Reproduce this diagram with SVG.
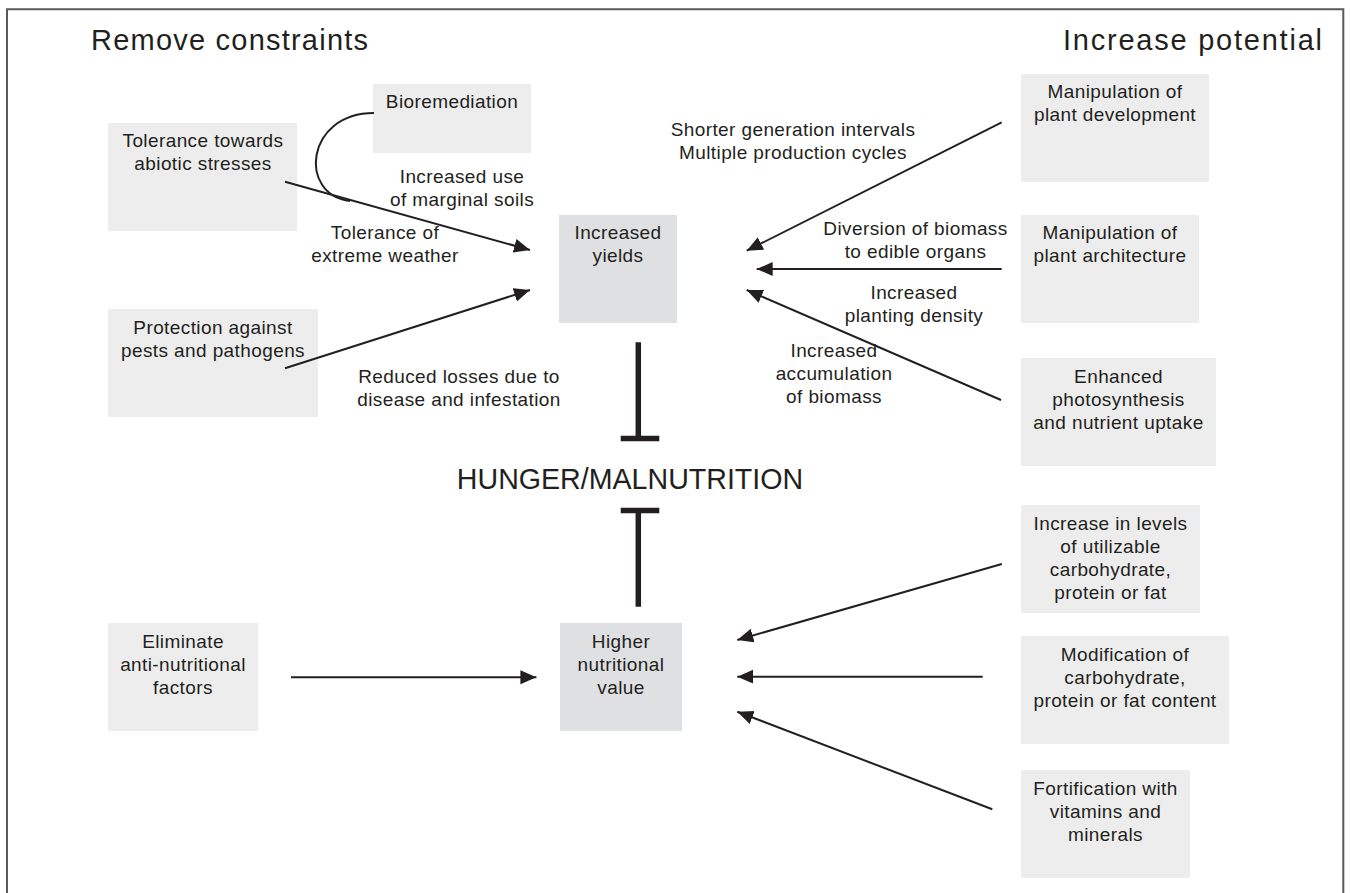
<svg xmlns="http://www.w3.org/2000/svg" width="1350" height="893" viewBox="0 0 1350 893">
<style>
.bg{fill:#ffffff}
.box{fill:#ededed}
.dbox{fill:#dfe0e2}
text{font-family:"Liberation Sans",Arial,Helvetica,sans-serif;fill:#231f20}
.t{font-size:19px;letter-spacing:0.4px;text-anchor:middle}
.title{font-size:29px}
.hm{font-size:28.6px;text-anchor:middle}
.ln{stroke:#231f20;stroke-width:2;fill:none}
.inh{stroke:#231f20;stroke-width:5.5;fill:none}
.frame{stroke:#5a5a5a;stroke-width:2;fill:none}
</style>
<defs>
<marker id="ah" markerUnits="userSpaceOnUse" markerWidth="17" markerHeight="15" refX="16" refY="7" orient="auto">
<path d="M0,0 L16,7 L0,14 z" fill="#231f20"/>
</marker>
</defs>
<rect class="bg" x="0" y="0" width="1350" height="893"/>
<path class="frame" d="M7,893 V9.3 H1343.3 V893"/>

<text class="title" x="91" y="50" textLength="277" lengthAdjust="spacing">Remove constraints</text>
<text class="title" x="1063" y="50" textLength="259" lengthAdjust="spacing">Increase potential</text>

<g id="bioremediation">
<rect class="box" x="373" y="84" width="158" height="69"/>
<text class="t" x="452" y="108">Bioremediation</text>
</g>
<g id="tolerance">
<rect class="box" x="108" y="123" width="189" height="108"/>
<text class="t" x="203" y="147">Tolerance towards</text>
<text class="t" x="203" y="170">abiotic stresses</text>
</g>
<g id="protection">
<rect class="box" x="108" y="309" width="210" height="108"/>
<text class="t" x="213" y="334">Protection against</text>
<text class="t" x="213" y="357">pests and pathogens</text>
</g>
<g id="yields">
<rect class="dbox" x="559" y="215" width="118" height="108"/>
<text class="t" x="618" y="239">Increased</text>
<text class="t" x="618" y="262">yields</text>
</g>
<g id="manip-dev">
<rect class="box" x="1021" y="74" width="188" height="108"/>
<text class="t" x="1115" y="97.5">Manipulation of</text>
<text class="t" x="1115" y="120.5">plant development</text>
</g>
<g id="manip-arch">
<rect class="box" x="1021" y="215" width="178" height="108"/>
<text class="t" x="1110" y="239">Manipulation of</text>
<text class="t" x="1110" y="262">plant architecture</text>
</g>
<g id="enhanced">
<rect class="box" x="1021" y="358" width="195" height="108"/>
<text class="t" x="1118.5" y="382.5">Enhanced</text>
<text class="t" x="1118.5" y="405.5">photosynthesis</text>
<text class="t" x="1118.5" y="428.5">and nutrient uptake</text>
</g>
<g id="hunger">
<text class="hm" x="630" y="489">HUNGER/MALNUTRITION</text>
</g>
<g id="increase-levels">
<rect class="box" x="1021" y="505" width="179" height="108"/>
<text class="t" x="1110.5" y="529.5">Increase in levels</text>
<text class="t" x="1110.5" y="552.5">of utilizable</text>
<text class="t" x="1110.5" y="575.5">carbohydrate,</text>
<text class="t" x="1110.5" y="598.5">protein or fat</text>
</g>
<g id="eliminate">
<rect class="box" x="108" y="623" width="150" height="108"/>
<text class="t" x="183" y="647.5">Eliminate</text>
<text class="t" x="183" y="670.5">anti-nutritional</text>
<text class="t" x="183" y="693.5">factors</text>
</g>
<g id="higher">
<rect class="dbox" x="560" y="623" width="122" height="108"/>
<text class="t" x="621" y="647.5">Higher</text>
<text class="t" x="621" y="670.5">nutritional</text>
<text class="t" x="621" y="693.5">value</text>
</g>
<g id="modification">
<rect class="box" x="1021" y="636" width="208" height="108"/>
<text class="t" x="1125" y="660.5">Modification of</text>
<text class="t" x="1125" y="683.5">carbohydrate,</text>
<text class="t" x="1125" y="706.5">protein or fat content</text>
</g>
<g id="fortification">
<rect class="box" x="1021" y="770" width="169" height="108"/>
<text class="t" x="1105.5" y="795">Fortification with</text>
<text class="t" x="1105.5" y="818">vitamins and</text>
<text class="t" x="1105.5" y="841">minerals</text>
</g>

<g id="connectors">
<path class="ln" d="M374,113 C305,113 298,195 350,201"/>
<line class="ln" x1="285" y1="181.7" x2="530" y2="250" marker-end="url(#ah)"/>
<line class="ln" x1="285" y1="368.3" x2="530" y2="290" marker-end="url(#ah)"/>
<line class="ln" x1="1001.7" y1="122.3" x2="746.7" y2="250.7" marker-end="url(#ah)"/>
<line class="ln" x1="1001.7" y1="269" x2="756.7" y2="269" marker-end="url(#ah)"/>
<line class="ln" x1="1001" y1="400" x2="746.7" y2="290" marker-end="url(#ah)"/>
<line class="ln" x1="291" y1="677.3" x2="536.4" y2="677.3" marker-end="url(#ah)"/>
<line class="ln" x1="1001.8" y1="564" x2="737.3" y2="640" marker-end="url(#ah)"/>
<line class="ln" x1="982.7" y1="676.7" x2="737.3" y2="676.7" marker-end="url(#ah)"/>
<line class="ln" x1="992.3" y1="809.3" x2="737.3" y2="711.7" marker-end="url(#ah)"/>
<path class="inh" d="M638.3,342.3 V438.5 M620.7,438.5 H659.3"/>
<path class="inh" d="M638.3,606.7 V510.5 M620.7,510.5 H659.3"/>
</g>

<g id="labels">
<text class="t" x="462" y="183.3">Increased use</text>
<text class="t" x="462" y="206">of marginal soils</text>
<text class="t" x="385" y="239">Tolerance of</text>
<text class="t" x="385" y="261.7">extreme weather</text>
<text class="t" x="459" y="383.3">Reduced losses due to</text>
<text class="t" x="459" y="406">disease and infestation</text>
<text class="t" x="793" y="136">Shorter generation intervals</text>
<text class="t" x="793" y="159">Multiple production cycles</text>
<text class="t" x="915.5" y="235">Diversion of biomass</text>
<text class="t" x="915.5" y="258">to edible organs</text>
<text class="t" x="914" y="299">Increased</text>
<text class="t" x="914" y="321.7">planting density</text>
<text class="t" x="834" y="357">Increased</text>
<text class="t" x="834" y="380">accumulation</text>
<text class="t" x="834" y="403">of biomass</text>
</g>
</svg>
